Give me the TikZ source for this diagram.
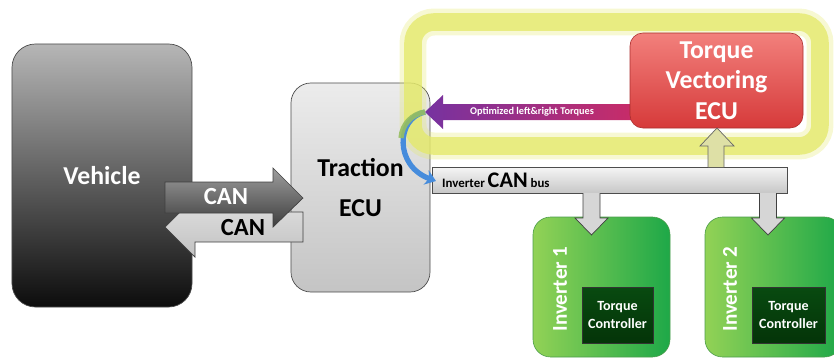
\documentclass[tikz,border=0pt]{standalone}
\usepackage{fontspec}
\setmainfont{Carlito}
\usepackage{tikz}
\usetikzlibrary{calc,arrows.meta,positioning}

\definecolor{vehtop}{RGB}{182,182,182}
\definecolor{vehbot}{RGB}{12,12,12}
\definecolor{ecutop}{RGB}{236,236,236}
\definecolor{ecubot}{RGB}{196,196,196}
\definecolor{hilite}{RGB}{228,233,108}
\definecolor{redtop}{RGB}{242,128,124}
\definecolor{redbot}{RGB}{214,58,58}
\definecolor{optleft}{RGB}{118,50,160}
\definecolor{optright}{RGB}{200,44,104}
\definecolor{grnleft}{RGB}{146,210,86}
\definecolor{grnright}{RGB}{30,168,72}
\definecolor{tcdark}{RGB}{8,74,16}
\definecolor{tcdarker}{RGB}{4,52,8}
\definecolor{curvblue}{RGB}{70,140,220}
\definecolor{curvgrn}{RGB}{150,190,96}

\begin{document}
\begin{tikzpicture}[x=0.03cm,y=-0.03cm,
  box/.style={draw=black!70,line width=0.6pt,inner sep=0pt},
  bigtxt/.style={font=\bfseries\fontsize{22}{26}\selectfont,align=center},
  blockarr/.style={draw=black!75,line width=0.6pt,line join=miter}]
\clip (0,0) rectangle (834,359);
% vehicle and traction ecu
\node[box,rounded corners=20pt,minimum width=5.4cm,minimum height=7.89cm,
  top color=vehtop,bottom color=vehbot,bigtxt,text=white] (veh) at (102,175.5) {Vehicle};
\node[box,rounded corners=17pt,minimum width=4.17cm,minimum height=6.27cm,
  top color=ecutop,bottom color=ecubot,bigtxt,font=\bfseries\fontsize{22}{34}\selectfont] (trac) at (360.5,187.5) {Traction\\ECU};
% CAN arrows
\draw[blockarr,top color=black!12,bottom color=black!24] (303,212) -- (195,212) -- (195,197) -- (165,227) -- (195,257) -- (195,242) -- (303,242) -- cycle;
\draw[blockarr,top color=black!38,bottom color=black!76] (165,182) -- (273,182) -- (273,168) -- (303,198) -- (273,227) -- (273,213) -- (165,213) -- cycle;
\node[bigtxt,text=white,font=\bfseries\fontsize{21}{24}\selectfont] (canout) at (226,197) {CAN};
\node[bigtxt,font=\bfseries\fontsize{21}{24}\selectfont] (canin) at (243,228) {CAN};
% highlight
\draw[hilite,opacity=0.3,line width=23pt,rounded corners=18pt] (413,22) rectangle (820,146);
\draw[hilite,opacity=0.8,line width=15pt,rounded corners=18pt] (413,22) rectangle (820,146);
% optimized torques arrow
\coordinate (opttip) at (425,112);
\draw[draw=none,left color=optleft,right color=optright] (opttip) -- (443,95) -- (443,104) -- (634,104) -- (634,120) -- (443,120) -- (443,129) -- cycle;
\node[font=\bfseries\fontsize{8.8}{10}\selectfont,text=white] (opttxt) at (532,112) {Optimized left\&right Torques};
% torque vectoring ecu
\node[draw=redbot!80!black,line width=0.5pt,rounded corners=11pt,minimum width=5.19cm,minimum height=2.85cm,
  top color=redtop,bottom color=redbot,bigtxt,text=white,inner sep=0pt] (tv) at (716.5,80.5) {Torque\\Vectoring\\ECU};
% bus
\node[box,minimum width=10.65cm,minimum height=0.78cm,top color=black!4,bottom color=black!22] (bus) at (609.5,180) {};
\node[anchor=base west,inner sep=0pt,font=\bfseries\fontsize{11}{13}\selectfont] (bustxt) at (442,187)
  {Inverter {\fontsize{19}{20}\selectfont CAN} bus};
\coordinate (busin) at (436,181);
\draw[curvblue,line width=4.5pt,-{Stealth[length=9pt,width=13pt]}] (opttip) .. controls (396,118) and (394,166) .. (busin);
\draw[curvgrn,line width=4.5pt,opacity=0.9] (opttip) .. controls (412,114) and (402,124) .. (401,138);
% up arrow to tv ecu
\draw[blockarr,draw=black!60,fill={rgb,255:red,222;green,224;blue,166}] (708,167) -- (708,146) -- (700,146) -- (717,128) -- (734,146) -- (724,146) -- (724,167);
% inverters
\node[draw=green!45!black!70,line width=0.5pt,rounded corners=15pt,minimum width=4.11cm,minimum height=4.2cm,
  left color=grnleft,right color=grnright,inner sep=0pt] (inv1) at (601.5,287) {};
\node[draw=green!45!black!70,line width=0.5pt,rounded corners=15pt,minimum width=4.11cm,minimum height=4.2cm,
  left color=grnleft,right color=grnright,inner sep=0pt] (inv2) at (773.5,287) {};
\node[rotate=90,text=white,font=\bfseries\fontsize{18}{20}\selectfont] (inv1txt) at (560,289) {Inverter 1};
\node[rotate=90,text=white,font=\bfseries\fontsize{18}{20}\selectfont] (inv2txt) at (730,289) {Inverter 2};
\node[draw=black!80,line width=0.5pt,minimum width=2.13cm,minimum height=1.68cm,top color=tcdark,bottom color=tcdarker,
  text=white,align=center,font=\bfseries\fontsize{12}{15}\selectfont,inner sep=0pt] (tc1) at (617.5,315) {Torque\\Controller};
\node[draw=black!80,line width=0.5pt,minimum width=2.19cm,minimum height=1.68cm,top color=tcdark,bottom color=tcdarker,
  text=white,align=center,font=\bfseries\fontsize{12}{15}\selectfont,inner sep=0pt] (tc2) at (788.5,315) {Torque\\Controller};
% down arrows
\foreach \c in {591.5,768}
  \draw[blockarr,fill=black!16] (\c-8.5,193) -- (\c-8.5,218) -- (\c-16.5,218) -- (\c,235) -- (\c+16.5,218) -- (\c+8.5,218) -- (\c+8.5,193);
\end{tikzpicture}
\end{document}
